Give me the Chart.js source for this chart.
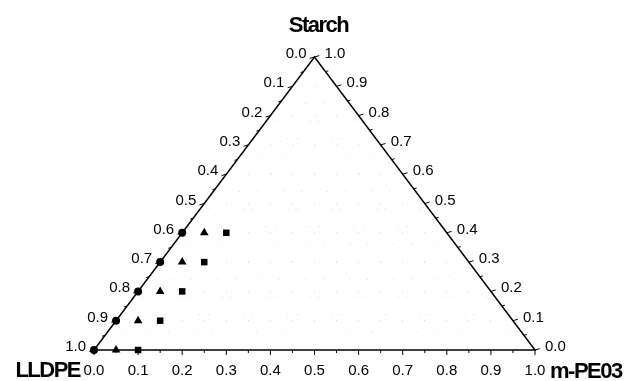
<!DOCTYPE html>
<html>
<head>
<meta charset="utf-8">
<script src="https://cdn.jsdelivr.net/npm/chart.js@4/dist/chart.umd.min.js"></script>
<style>
  html, body { margin: 0; padding: 0; background: #fff; }
  #wrap { width: 625px; height: 381px; position: relative; }
</style>
</head>
<body>
<div id="wrap"><canvas id="ternaryChart"></canvas></div>
<script>
// 成分名（頂点ラベル）
const cornerLabels = ['LLDPE', 'm-PE03', 'Starch'];

// 軸目盛り
const tickValues = [0.0, 0.1, 0.2, 0.3, 0.4, 0.5, 0.6, 0.7, 0.8, 0.9, 1.0];
const tickLabels = ['0.0', '0.1', '0.2', '0.3', '0.4', '0.5', '0.6', '0.7', '0.8', '0.9', '1.0'];

// 組成データ（m-PE03 分率, Starch 分率）
const circleMPE    = [0.00, 0.00, 0.00, 0.00, 0.00];
const circleStarch = [0.40, 0.30, 0.20, 0.10, 0.00];
const triMPE       = [0.05, 0.05, 0.05, 0.05, 0.05];
const triStarch    = [0.40, 0.30, 0.20, 0.10, 0.00];
const squareMPE    = [0.10, 0.10, 0.10, 0.10, 0.10];
const squareStarch = [0.40, 0.30, 0.20, 0.10, 0.00];

// 三角座標 -> 直交座標
function toXY(mpe, starch) {
    return { x: mpe + starch / 2, y: starch };
}
function series(mpe, starch) {
    return mpe.map((m, i) => toXY(m, starch[i]));
}

const tickFont = '15px "Liberation Sans", Arial, sans-serif';
const titleFont = 'bold 22px "Liberation Sans", Arial, sans-serif';

// 三角形の枠・目盛り・グリッドを描くプラグイン
const ternaryFrame = {
    id: 'ternaryFrame',
    beforeDatasetsDraw(chart) {
        const ctx = chart.ctx;
        const sx = chart.scales.x, sy = chart.scales.y;
        const px = (p) => ({ x: sx.getPixelForValue(p.x), y: sy.getPixelForValue(p.y) });

        const A = px(toXY(0, 0));   // LLDPE
        const B = px(toXY(1, 0));   // m-PE03
        const C = px(toXY(0, 1));   // Starch

        ctx.save();

        // 点線グリッド
        ctx.strokeStyle = '#d4d4d4';
        ctx.lineWidth = 1;
        ctx.setLineDash([1, 21]);
        for (let i = 1; i < 10; i++) {
            const v = i / 10;
            const lines = [
                [toXY(0, v), toXY(1 - v, v)],
                [toXY(v, 0), toXY(v, 1 - v)],
                [toXY(v, 0), toXY(0, v)]
            ];
            lines.forEach(l => {
                const p1 = px(l[0]), p2 = px(l[1]);
                ctx.beginPath();
                ctx.moveTo(p1.x, p1.y);
                ctx.lineTo(p2.x, p2.y);
                ctx.stroke();
            });
        }
        ctx.setLineDash([]);

        // 枠
        ctx.strokeStyle = '#000';
        ctx.lineWidth = 1.5;
        ctx.beginPath();
        ctx.moveTo(A.x, A.y);
        ctx.lineTo(B.x, B.y);
        ctx.lineTo(C.x, C.y);
        ctx.closePath();
        ctx.stroke();

        // 目盛り
        ctx.lineWidth = 1;
        const dirL = { x: -0.96, y: 0.28 };
        const dirR = { x: 0.96, y: -0.28 };
        const dirB = { x: 0, y: 1 };
        function tick(p, d, len) {
            ctx.beginPath();
            ctx.moveTo(p.x, p.y);
            ctx.lineTo(p.x + d.x * len, p.y + d.y * len);
            ctx.stroke();
        }
        for (let i = 0; i <= 20; i++) {
            const v = i / 20;
            const len = (i % 2 === 0) ? 5 : 3;
            tick(px(toXY(v, 0)), dirB, len);                     // 下辺: m-PE03
            tick(px({ x: 0.5 * (1 - v), y: 1 - v }), dirL, len); // 左辺: LLDPE
            tick(px({ x: 1 - v / 2, y: v }), dirR, len);         // 右辺: Starch
        }

        // 目盛りラベル
        ctx.fillStyle = '#000';
        ctx.font = tickFont;
        tickValues.forEach((v, i) => {
            const pb = px(toXY(v, 0));
            ctx.textAlign = 'center';
            ctx.textBaseline = 'alphabetic';
            ctx.fillText(tickLabels[i], pb.x, pb.y + 25);

            const pl = px({ x: 0.5 * (1 - v), y: 1 - v });
            ctx.textAlign = 'right';
            ctx.fillText(tickLabels[i], pl.x - 8, pl.y + 1);

            const pr = px({ x: 1 - v / 2, y: v });
            ctx.textAlign = 'left';
            ctx.fillText(tickLabels[i], pr.x + 10, pr.y + 1);
        });

        // 頂点ラベル
        ctx.font = titleFont;
        ctx.letterSpacing = '-1.5px';
        ctx.textBaseline = 'alphabetic';
        ctx.textAlign = 'right';
        ctx.fillText(cornerLabels[0], A.x - 14, A.y + 27);
        ctx.textAlign = 'left';
        ctx.fillText(cornerLabels[1], B.x + 15, B.y + 28);
        ctx.textAlign = 'center';
        ctx.fillText(cornerLabels[2], C.x + 4, C.y - 25);

        ctx.restore();
    }
};

const ctx = document.getElementById('ternaryChart').getContext('2d');
const ternaryChart = new Chart(ctx, {
    type: 'scatter',
    data: {
        datasets: [
            {
                label: 'circle',
                data: series(circleMPE, circleStarch),
                pointStyle: 'circle',
                pointRadius: 4,
                backgroundColor: '#000',
                borderColor: '#000',
                borderWidth: 0
            },
            {
                label: 'triangle',
                data: series(triMPE, triStarch),
                pointStyle: 'triangle',
                pointRadius: 5,
                backgroundColor: '#000',
                borderColor: '#000',
                borderWidth: 0
            },
            {
                label: 'square',
                data: series(squareMPE, squareStarch),
                pointStyle: 'rect',
                pointRadius: 4.6,
                backgroundColor: '#000',
                borderColor: '#000',
                borderWidth: 0
            }
        ]
    },
    options: {
        responsive: true,
        maintainAspectRatio: false,
        animation: false,
        clip: false,
        layout: {
            padding: { left: 94, right: 90, top: 57, bottom: 31 }
        },
        scales: {
            x: { type: 'linear', min: 0, max: 1, display: false },
            y: { type: 'linear', min: 0, max: 1, display: false }
        },
        plugins: {
            legend: { display: false },
            tooltip: { enabled: false }
        }
    },
    plugins: [ternaryFrame]
});
</script>
</body>
</html>
